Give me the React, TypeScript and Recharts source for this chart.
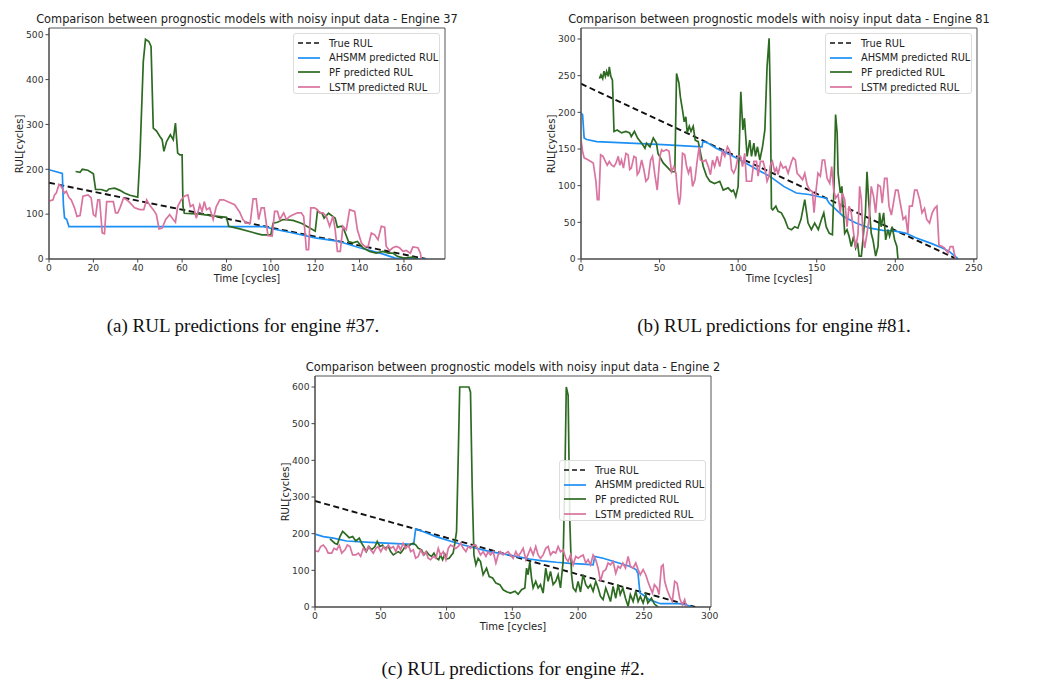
import React from 'react';
import { LineChart, Line, XAxis, YAxis, ReferenceArea } from 'recharts';

type Pt = [number, number];

// Engine 37
const trueA: Pt[] = [[0, 170], [170, 0]];
const ahsmmA: Pt[] = [[0, 199], [6, 191], [6.5, 120], [7, 92], [8, 88], [9, 72], [98, 72], [100, 68], [110, 58], [120, 47], [130, 40], [140, 25], [150, 12], [156, 2], [170, 0]];
const pfA: Pt[] = [[12, 195], [14, 193], [15, 200], [17.5, 198], [20, 190], [21, 155], [23.6, 155], [26, 151], [27, 156], [29.6, 158], [32, 153], [34, 147], [36.5, 142], [40, 138], [41, 230], [42.5, 440], [43.5, 490], [45, 485], [46, 474], [47, 292], [48.5, 285], [50, 273], [51, 266], [51.8, 240], [53, 262], [54.7, 277], [56, 266], [57, 303], [58, 236], [59, 232], [60, 232], [60.4, 117], [61, 102], [68, 100], [74, 96], [80, 93], [81, 73], [86, 67], [92, 59], [96, 54], [100, 54], [101, 80], [103, 82], [105.5, 88], [110, 86], [114, 79], [117, 71], [120, 62], [121, 106], [123, 102], [124, 91], [126, 102], [129, 91], [130, 71], [132, 73], [133, 65], [135, 39], [137, 36], [139, 39], [141.5, 25], [144.5, 17], [147.5, 13], [150.5, 17], [153, 13], [155, 13], [157, 6], [160, 2], [164, 4], [166, 0]];
const lstmA: Pt[] = [[0, 129], [1.8, 132], [2.5, 143], [3.3, 147], [4.5, 166], [5.5, 162], [7, 147], [7.8, 151], [9, 137], [10, 132], [11.5, 114], [12.6, 95], [14, 97], [15.3, 140], [17.6, 143], [19, 136], [20, 99], [21, 95], [22, 132], [22.8, 132], [24, 58], [25, 56], [26, 128], [29, 128], [30, 103], [31, 103], [32, 114], [33.6, 136], [35, 132], [36, 128], [38.6, 114], [41, 110], [42.7, 110], [44, 132], [45.5, 119], [47, 110], [48.4, 99], [49.6, 67], [51, 69], [52.6, 88], [54.4, 99], [56, 88], [57, 82], [58, 117], [59.6, 132], [61, 140], [62.6, 143], [63.7, 117], [65, 121], [66.4, 91], [68, 121], [69, 106], [70, 128], [71, 110], [72.4, 114], [74, 88], [75.4, 117], [77, 132], [78.7, 132], [81.4, 126], [83.7, 121], [86, 104], [87.4, 88], [89, 80], [90.7, 80], [92, 134], [93.4, 134], [94.5, 88], [95.7, 114], [97, 114], [98.7, 52], [100.6, 51], [101.7, 106], [103, 106], [104, 88], [105.8, 103], [107, 88], [108.5, 95], [110.3, 99], [112, 103], [113.7, 103], [114.8, 95], [116, 21], [117, 21], [118, 114], [119.7, 114], [121, 110], [122, 103], [123.5, 103], [125, 95], [126.5, 73], [128, 95], [129, 65], [130, 17], [131.3, 17], [132.5, 73], [134, 65], [135.5, 110], [137.8, 106], [139, 65], [140.8, 36], [142.3, 28], [143.8, 27], [145.3, 58], [146.8, 54], [148.3, 43], [149.8, 73], [151.3, 71], [152, 28], [153.5, 19], [155, 25], [156.5, 28], [158, 25], [159.6, 17], [161, 19], [162.9, 13], [164, 27], [166.3, 25], [167.4, 13], [167.8, 0]];

// Engine 81
const trueB: Pt[] = [[0, 239], [239, 0]];
const ahsmmB: Pt[] = [[0, 199], [1, 197], [2, 165], [3.6, 163], [10, 160], [31, 158], [52, 156], [77, 153], [77.5, 160], [80, 159], [86, 151], [95, 142], [103, 133], [112, 122], [120, 113], [129, 99], [137, 90], [145, 88], [156, 83], [158, 76], [167, 58], [175, 49], [184, 42], [192, 39], [200, 38], [207, 35], [213, 29], [222, 22], [230, 15], [234.5, 10], [240, 0]];
const pfB: Pt[] = [[11.7, 246], [12.7, 251], [13.8, 246], [14.6, 256], [15.5, 249], [16.3, 256], [17.4, 249], [18, 262], [19, 249], [20, 244], [21, 174], [23, 176], [25.8, 172], [28.6, 174], [31, 172], [32, 167], [34, 174], [36, 165], [38.6, 158], [40.7, 151], [41.7, 158], [43.9, 153], [46, 165], [48, 158], [49, 144], [52.3, 131], [55.5, 124], [57.6, 119], [59.7, 119], [60.8, 253], [62.3, 240], [63.3, 220], [64.6, 203], [65.7, 187], [66.7, 194], [67.6, 172], [68.9, 181], [70, 174], [71.4, 181], [72.7, 162], [74.6, 160], [77.8, 126], [79.9, 113], [82, 106], [85, 103], [88.3, 106], [90.5, 94], [93.6, 97], [95.8, 92], [97, 94], [98.5, 85], [100, 99], [101.7, 228], [103, 176], [104, 192], [105.7, 140], [107.4, 162], [108.5, 140], [110, 158], [111, 140], [112.3, 153], [113.8, 135], [115.5, 153], [117, 176], [118.4, 262], [119.7, 301], [120.5, 217], [121.2, 69], [122, 67], [124, 72], [125.4, 65], [127.5, 63], [129.7, 54], [131.8, 42], [134, 40], [136, 44], [138, 42], [140, 54], [142.4, 81], [144.5, 49], [146.6, 40], [148.7, 49], [151, 40], [153, 54], [154.5, 63], [156, 44], [158, 35], [160, 33], [161, 99], [162, 197], [163, 172], [163.6, 117], [165, 90], [166, 99], [167.8, 35], [169.3, 40], [170.6, 31], [172, 17], [173.5, 31], [174.8, 15], [176, 22], [177, 4], [178.4, 4], [179.4, 26], [181, 63], [182, 119], [183, 81], [184.7, 35], [185.8, 26], [187.5, 4], [189, 17], [190, 63], [191, 44], [192.6, 63], [193.9, 26], [195.3, 40], [196.4, 31], [198, 44], [199.6, 26], [201, 17], [201.7, 0]];
const lstmB: Pt[] = [[0, 162], [1, 147], [2, 138], [4.7, 135], [7.8, 131], [9.5, 106], [10.4, 81], [11.4, 81], [12.5, 142], [14, 140], [15.5, 133], [16.7, 128], [18, 133], [19.5, 128], [21, 126], [22.3, 131], [23.7, 140], [24.7, 128], [25.8, 135], [27, 124], [28.6, 144], [30, 142], [31, 122], [32, 124], [33.7, 140], [35, 138], [35.8, 115], [37, 119], [38.6, 135], [40, 122], [41.3, 106], [42.8, 110], [44.3, 135], [45.5, 140], [47, 115], [48.5, 94], [50.2, 140], [51.3, 149], [52.3, 147], [54.4, 149], [56, 147], [57.6, 119], [59.1, 126], [60.4, 117], [61.4, 92], [62.5, 74], [63.3, 85], [64.6, 144], [66, 142], [67.2, 126], [68.4, 117], [69.7, 126], [71, 99], [72.5, 108], [74, 135], [75.2, 153], [76, 135], [77.8, 133], [79.4, 135], [81, 126], [82.4, 115], [83.7, 135], [85, 126], [86.7, 140], [88.3, 126], [90, 147], [91.5, 140], [93.2, 153], [94.7, 147], [95.8, 122], [97.2, 117], [98.5, 124], [100, 140], [101.5, 140], [102.8, 126], [104.2, 144], [105.3, 106], [108.5, 106], [110, 133], [111.7, 133], [112.7, 113], [114.2, 133], [115.9, 133], [117, 124], [118.4, 106], [119.7, 113], [120.5, 128], [121.8, 133], [123.3, 119], [124.4, 124], [125.4, 115], [127, 131], [128.6, 124], [130.3, 126], [131.8, 117], [134, 133], [135, 138], [136.4, 135], [137.5, 117], [139.2, 113], [141, 108], [142.4, 117], [143.9, 101], [145.6, 94], [147.2, 92], [148.3, 63], [149.4, 90], [150.8, 117], [152.3, 113], [153.6, 135], [155, 135], [156.6, 110], [158.3, 103], [159.5, 126], [160.8, 94], [162, 83], [163.6, 88], [165, 63], [166.3, 90], [167.8, 81], [169.3, 44], [170.6, 72], [172, 63], [173.5, 35], [174.8, 15], [176.3, 35], [177.3, 99], [178.4, 81], [179.4, 31], [180.5, 15], [182, 35], [183.3, 54], [184.7, 99], [186.2, 85], [187.5, 63], [189, 101], [190.5, 99], [191.7, 76], [193.2, 110], [194.7, 110], [196, 72], [197.5, 60], [198.5, 72], [200.2, 94], [201.7, 94], [203.2, 76], [205, 54], [206.6, 58], [208, 35], [209, 72], [210.8, 72], [212.3, 94], [213.8, 94], [215.5, 81], [217, 63], [218.6, 69], [220, 54], [221.8, 49], [223.5, 63], [225, 69], [226.5, 72], [227.8, 19], [229.9, 17], [231.4, 15], [233.5, 8], [235, 17], [236.7, 17], [238.3, 0]];

// Engine 2
const trueC: Pt[] = [[0, 289], [289, 0]];
const ahsmmC: Pt[] = [[0, 199], [6.3, 192], [14, 188], [24, 180], [42, 176], [62, 173], [75, 171], [76.5, 213], [82, 206], [92, 192], [102.5, 180], [112.7, 169], [123, 160], [133, 151], [143, 145], [153, 138], [163, 131], [173, 126], [183.5, 122], [193.7, 119], [204, 117], [211.4, 115], [212.7, 138], [219, 133], [229, 122], [239, 111], [244, 102], [245.5, 92], [247, 38], [249, 34], [254, 20], [261, 11], [263, 9], [277, 9], [282, 6], [287, 0]];
const pfC: Pt[] = [[11.4, 186], [15, 174], [17, 171], [19, 192], [21, 206], [23.5, 198], [26, 189], [28.6, 192], [31, 180], [33.7, 188], [35.4, 174], [37, 165], [39, 151], [41, 165], [43, 156], [45.6, 165], [47.3, 179], [49.4, 165], [51.4, 169], [53, 160], [55.7, 165], [57.5, 151], [59.5, 142], [61.5, 147], [63.3, 151], [65, 147], [67, 156], [69, 169], [71, 165], [72.7, 171], [74.7, 174], [76.7, 169], [78.5, 160], [81, 156], [82.8, 142], [84.8, 151], [86.8, 142], [88.6, 138], [90.4, 147], [92.4, 133], [94, 129], [95.4, 142], [97, 129], [98.7, 144], [100, 131], [102, 133], [103.8, 142], [105, 147], [106.3, 174], [107.6, 206], [108.9, 414], [110, 600], [117, 600], [118.2, 586], [119.5, 324], [120.8, 142], [122.3, 115], [124, 133], [125.8, 124], [127.8, 88], [130.4, 106], [132.4, 83], [135, 79], [137.5, 65], [140.5, 61], [143, 47], [146, 41], [148.6, 38], [152, 43], [154.4, 35], [157, 47], [159.5, 52], [160.8, 106], [162, 88], [163.3, 124], [164.6, 79], [165.8, 52], [167.8, 70], [169.6, 52], [171.4, 61], [173.4, 38], [175.4, 106], [177.2, 70], [179, 97], [181, 61], [183, 70], [184.8, 88], [186.6, 52], [188.6, 124], [190, 369], [191, 600], [192.4, 578], [193.7, 233], [195, 88], [196.2, 52], [198.2, 43], [200, 70], [201.8, 41], [203.8, 88], [205.8, 61], [207.6, 52], [209.4, 61], [211.4, 43], [213.4, 70], [215.2, 52], [217, 29], [219, 20], [221, 52], [222.8, 34], [224.6, 15], [226.6, 56], [228.6, 24], [230.4, 61], [232, 34], [234, 52], [236, 24], [238, 2], [239.7, 34], [241.8, 15], [243.8, 43], [245.6, 15], [247.3, 29], [249.4, 11], [251.4, 34], [253, 11], [255.7, 24], [258, 8], [260.8, 0]];
const lstmC: Pt[] = [[0, 153], [2.5, 151], [4.3, 165], [6.3, 169], [8.4, 160], [10, 147], [12.7, 147], [14.4, 160], [16.5, 156], [18.5, 168], [20.3, 147], [22.8, 156], [24.6, 169], [26.6, 165], [28.6, 142], [31, 142], [33, 147], [34.7, 138], [36.7, 160], [38.7, 151], [40.5, 165], [42.3, 156], [44.3, 147], [46.3, 160], [48, 165], [50, 151], [52, 165], [54, 156], [55.7, 169], [57.5, 160], [59.5, 165], [61.5, 151], [63.3, 169], [65, 156], [67, 174], [69, 160], [71, 169], [72.7, 151], [74.7, 156], [76.5, 133], [78.5, 138], [80.3, 156], [82.3, 142], [84.3, 151], [86, 133], [87.8, 129], [90, 138], [91.9, 133], [93.7, 160], [95.4, 142], [97.5, 151], [99.5, 129], [101.3, 160], [103, 169], [105, 165], [107, 160], [108.9, 165], [110.6, 174], [112.7, 160], [114.7, 151], [116.5, 165], [118.2, 160], [120.3, 169], [122.3, 168], [124, 156], [125.8, 142], [127.8, 151], [129.9, 138], [131.6, 151], [133.4, 142], [135.4, 151], [137.5, 120], [139.2, 142], [141, 151], [143, 142], [145, 147], [146.8, 151], [148.6, 142], [150.6, 133], [152.7, 151], [154.4, 138], [156.2, 147], [158.2, 160], [160.3, 129], [162, 144], [163.8, 160], [165.8, 142], [167.8, 165], [169.6, 142], [171.4, 133], [173.4, 142], [175.4, 160], [177.2, 165], [179, 142], [181, 151], [183, 147], [184.8, 165], [186.6, 151], [188.6, 156], [190.6, 133], [192.4, 124], [194.2, 142], [196.2, 115], [198.2, 138], [200, 133], [201.8, 138], [203.8, 142], [205.8, 120], [207.6, 129], [209.4, 115], [211.4, 142], [213.4, 129], [215.2, 106], [217, 70], [219, 97], [221, 102], [222.8, 120], [224.6, 115], [226.6, 124], [228.6, 92], [230.4, 111], [232, 106], [234, 120], [236, 106], [238, 138], [239.7, 111], [241.8, 106], [243.8, 120], [245.6, 102], [247.3, 88], [249.4, 102], [251.4, 88], [253, 70], [254.9, 52], [256.5, 38], [258, 61], [260, 52], [261.5, 34], [263.3, 111], [264.6, 115], [265.8, 70], [267.6, 47], [269.6, 29], [271.6, 15], [273.4, 70], [275.2, 65], [277.2, 24], [279.2, 6], [281, 20], [282.3, 0]];

const ticksA = { x: [0, 20, 40, 60, 80, 100, 120, 140, 160], y: [0, 100, 200, 300, 400, 500] };
const ticksB = { x: [0, 50, 100, 150, 200, 250], y: [0, 50, 100, 150, 200, 250, 300] };
const ticksC = { x: [0, 50, 100, 150, 200, 250, 300], y: [0, 100, 200, 300, 400, 500, 600] };

const seriesNames = ['True RUL', 'AHSMM predicted RUL', 'PF predicted RUL', 'LSTM predicted RUL'];
const colors = { trueRul: '#111111', ahsmm: '#1c8ff5', pf: '#2e6b22', lstm: '#d9739f' };

const PLOT_W = 396;
const PLOT_H = 231;
const SANS = '"DejaVu Sans", sans-serif';

const toRows = (pts: Pt[]) => pts.map(([t, v]) => ({ t, v }));

interface PanelProps {
  left: number;
  top: number;
  title: string;
  xMax: number;
  yMax: number;
  ticks: { x: number[]; y: number[] };
  trueRul: Pt[];
  ahsmm: Pt[];
  pf: Pt[];
  lstm: Pt[];
  legendTop: number;
}

const Label = ({ x, y, children, style }: any) => (
  <div
    style={{
      position: 'absolute',
      left: x,
      top: y,
      transform: 'translate(-50%, -50%)',
      whiteSpace: 'nowrap',
      lineHeight: 1,
      fontFamily: SANS,
      color: '#222',
      ...style,
    }}
  >
    {children}
  </div>
);

function Legend({ x, y }: { x: number; y: number }) {
  const styles = [
    { stroke: colors.trueRul, dash: '5 3' },
    { stroke: colors.ahsmm, dash: undefined },
    { stroke: colors.pf, dash: undefined },
    { stroke: colors.lstm, dash: undefined },
  ];
  return (
    <div
      style={{
        position: 'absolute',
        left: x,
        top: y,
        width: 147,
        height: 61,
        boxSizing: 'border-box',
        border: '1px solid #dcdcdc',
        borderRadius: 3,
        background: 'rgba(255,255,255,0.85)',
        fontFamily: SANS,
        fontSize: 9.8,
        color: '#222',
      }}
    >
      {seriesNames.map((name, i) => (
        <div key={name} style={{ position: 'absolute', left: 3, top: 2 + i * 14.7, height: 14, display: 'flex', alignItems: 'center' }}>
          <svg width={24} height={6} style={{ marginRight: 8 }}>
            <line x1={1} y1={3} x2={23} y2={3} stroke={styles[i].stroke} strokeWidth={1.7} strokeDasharray={styles[i].dash} />
          </svg>
          <span>{name}</span>
        </div>
      ))}
    </div>
  );
}

function Panel({ left, top, title, xMax, yMax, ticks, trueRul, ahsmm, pf, lstm, legendTop }: PanelProps) {
  const tickStyle = { fontSize: 9.2, fill: '#333', fontFamily: SANS };
  const cx = left + PLOT_W / 2;
  return (
    <>
      <Label x={cx} y={top - 8} style={{ fontSize: 11.4 }}>{title}</Label>
      <div style={{ position: 'absolute', left: left - 50, top: top - 30 }}>
        <LineChart width={PLOT_W + 60} height={PLOT_H + 70} margin={{ top: 30, right: 10, bottom: 10, left: 10 }}>
          <XAxis
            dataKey="t"
            type="number"
            domain={[0, xMax]}
            ticks={ticks.x}
            allowDataOverflow
            tick={tickStyle}
            tickSize={3.5}
            tickMargin={2}
            height={30}
            stroke="#444"
          />
          <YAxis
            type="number"
            domain={[0, yMax]}
            ticks={ticks.y}
            allowDataOverflow
            tick={tickStyle}
            tickSize={3.5}
            tickMargin={2}
            width={40}
            stroke="#444"
          />
          <ReferenceArea x1={0} x2={xMax} y1={0} y2={yMax} fill="none" stroke="#555" strokeWidth={1} ifOverflow="visible" />
          <Line data={toRows(trueRul)} dataKey="v" type="linear" stroke={colors.trueRul} strokeWidth={1.9} strokeDasharray="6 3.5" dot={false} isAnimationActive={false} />
          <Line data={toRows(ahsmm)} dataKey="v" type="linear" stroke={colors.ahsmm} strokeWidth={1.7} dot={false} isAnimationActive={false} />
          <Line data={toRows(pf)} dataKey="v" type="linear" stroke={colors.pf} strokeWidth={1.7} dot={false} isAnimationActive={false} />
          <Line data={toRows(lstm)} dataKey="v" type="linear" stroke={colors.lstm} strokeWidth={1.7} dot={false} isAnimationActive={false} />
        </LineChart>
      </div>
      <Label x={cx} y={top + PLOT_H + 20} style={{ fontSize: 10 }}>Time [cycles]</Label>
      <Label x={left - 29} y={top + PLOT_H / 2} style={{ fontSize: 10, transform: 'translate(-50%, -50%) rotate(-90deg)' }}>RUL[cycles]</Label>
      <Legend x={left + 244} y={top + legendTop} />
    </>
  );
}

const captionStyle = { fontFamily: '"Liberation Serif", "Times New Roman", serif', fontSize: 19, color: '#111' };

export default function App() {
  return (
    <div style={{ position: 'absolute', left: 0, top: 0, width: 1037, height: 682, background: '#fff' }}>
      <Panel left={49} top={28} title="Comparison between prognostic models with noisy input data - Engine 37" xMax={178.5} yMax={515} ticks={ticksA} trueRul={trueA} ahsmm={ahsmmA} pf={pfA} lstm={lstmA} legendTop={5} />
      <Panel left={581} top={28} title="Comparison between prognostic models with noisy input data - Engine 81" xMax={252} yMax={315} ticks={ticksB} trueRul={trueB} ahsmm={ahsmmB} pf={pfB} lstm={lstmB} legendTop={5} />
      <Panel left={315} top={376} title="Comparison between prognostic models with noisy input data - Engine 2" xMax={301} yMax={630} ticks={ticksC} trueRul={trueC} ahsmm={ahsmmC} pf={pfC} lstm={lstmC} legendTop={84} />
      <Label x={243} y={325} style={captionStyle}>(a) RUL predictions for engine #37.</Label>
      <Label x={774} y={325} style={captionStyle}>(b) RUL predictions for engine #81.</Label>
      <Label x={513} y={668} style={captionStyle}>(c) RUL predictions for engine #2.</Label>
    </div>
  );
}
